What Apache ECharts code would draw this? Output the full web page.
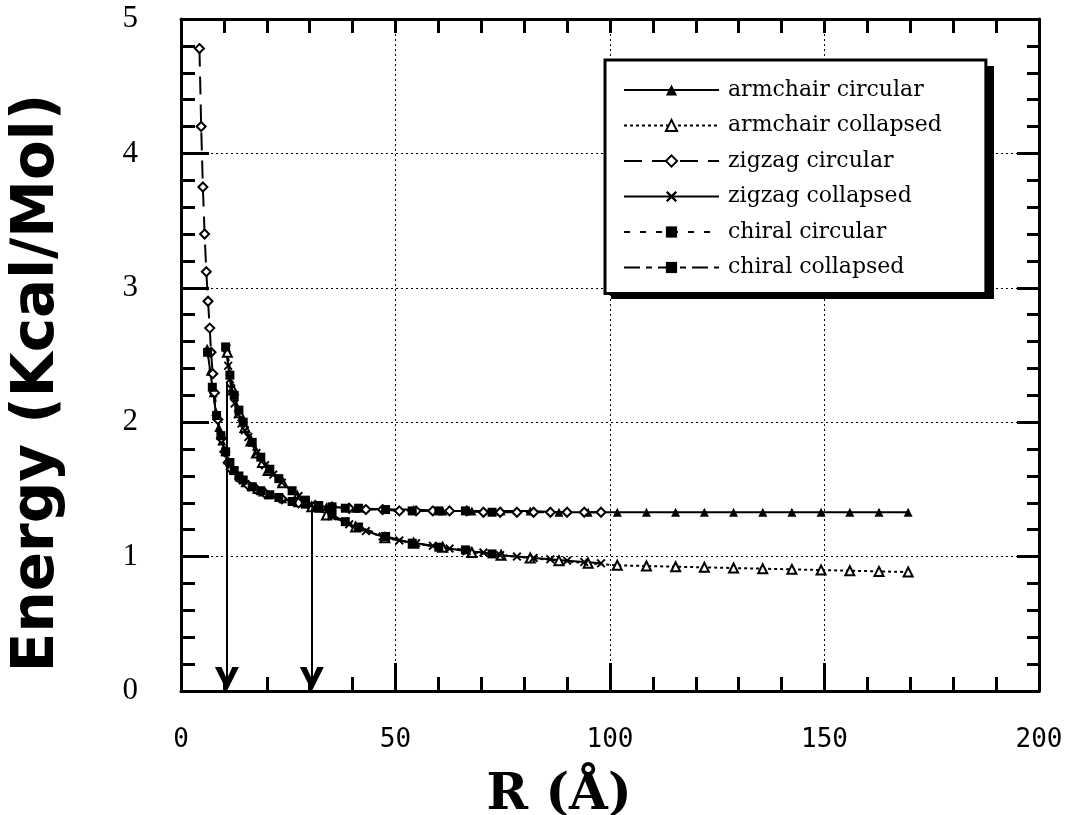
<!DOCTYPE html>
<html><head><meta charset="utf-8">
<script src="https://cdn.jsdelivr.net/npm/echarts@6/dist/echarts.min.js"></script>
<style>html,body{margin:0;padding:0;background:#fff}#c{width:1083px;height:815px}</style>
</head><body><div id="c"></div>
<script>
// ---- data ----
const seriesNames = ['armchair circular','armchair collapsed','zigzag circular','zigzag collapsed','chiral circular','chiral collapsed'];

const armchairCircR = [6.1,6.8,7.5,8.1,8.8,9.5,10.2,10.8,12.2,13.6,14.9,16.3,17.6,19.0,20.3,23.7,27.1,30.5,33.9,40.7,47.5,54.2,61.0,67.8,74.6,81.4,88.1,94.9,101.7,108.5,115.3,122.0,128.8,135.6,142.4,149.2,155.9,162.7,169.5];
const armchairCircE = [2.55,2.38,2.22,2.08,1.96,1.86,1.78,1.72,1.64,1.59,1.55,1.52,1.50,1.48,1.46,1.43,1.40,1.38,1.37,1.36,1.35,1.35,1.34,1.34,1.34,1.34,1.33,1.33,1.33,1.33,1.33,1.33,1.33,1.33,1.33,1.33,1.33,1.33,1.33];

const armchairCollR = [10.8,12.2,13.6,14.9,16.3,17.6,19.0,20.3,23.7,27.1,30.5,33.9,40.7,47.5,54.2,61.0,67.8,74.6,81.4,88.1,94.9,101.7,108.5,115.3,122.0,128.8,135.6,142.4,149.2,155.9,162.7,169.5];
const armchairCollE = [2.52,2.24,2.07,1.96,1.86,1.77,1.70,1.64,1.55,1.45,1.37,1.31,1.22,1.14,1.10,1.07,1.03,1.01,0.99,0.97,0.95,0.935,0.93,0.925,0.92,0.915,0.91,0.905,0.90,0.895,0.89,0.885];

const zigzagCircR = [4.3,4.7,5.1,5.5,5.9,6.3,6.7,7.0,7.4,7.8,8.6,9.4,10.2,11.0,11.7,13.7,15.7,17.6,19.6,23.5,27.4,31.3,35.2,39.2,43.1,47.0,50.9,54.8,58.7,62.6,66.6,70.5,74.4,78.3,82.2,86.1,90.0,94.0,97.9];
const zigzagCircE = [4.78,4.20,3.75,3.40,3.12,2.90,2.70,2.52,2.36,2.22,2.02,1.88,1.78,1.70,1.65,1.58,1.53,1.50,1.47,1.43,1.40,1.38,1.37,1.36,1.35,1.35,1.34,1.34,1.34,1.34,1.34,1.33,1.33,1.33,1.33,1.33,1.33,1.33,1.33];

const zigzagCollR = [10.6,11.0,11.4,11.7,12.5,13.3,14.1,14.9,15.7,17.6,19.6,21.5,23.5,27.4,31.3,35.2,39.2,43.1,47.0,50.9,54.8,58.7,62.6,66.6,70.5,74.4,78.3,82.2,86.1,90.0,94.0,97.9];
const zigzagCollE = [2.55,2.42,2.32,2.25,2.14,2.06,1.99,1.94,1.89,1.77,1.68,1.61,1.55,1.45,1.36,1.30,1.24,1.19,1.15,1.12,1.10,1.08,1.06,1.04,1.03,1.01,1.00,0.99,0.98,0.97,0.96,0.95];

const chiralCircR = [6.2,7.3,8.3,9.3,10.4,11.4,12.4,13.5,14.5,16.6,18.6,20.7,22.8,25.9,29.0,32.1,35.2,38.3,41.4,47.7,53.9,60.1,66.3,72.5];
const chiralCircE = [2.52,2.26,2.05,1.90,1.78,1.70,1.64,1.60,1.57,1.52,1.49,1.46,1.44,1.41,1.39,1.38,1.37,1.36,1.36,1.35,1.34,1.34,1.34,1.33];

const chiralCollR = [10.4,11.4,12.4,13.5,14.5,16.6,18.6,20.7,22.8,25.9,29.0,32.1,35.2,38.3,41.4,47.7,53.9,60.1,66.3,72.5];
const chiralCollE = [2.56,2.35,2.20,2.09,2.00,1.85,1.74,1.65,1.58,1.49,1.42,1.36,1.31,1.26,1.22,1.15,1.10,1.07,1.05,1.02];

// arrows marking the two characteristic radii: [R, E at start]
const arrowsR = [10.7, 30.5];
const arrowsStartE = [2.3, 1.36];

const xRange = {min: 0, max: 200, interval: 50};
const yRange = {min: 0, max: 5, interval: 1};

// ---- chart ----
const zip = (xs, ys) => xs.map((x, i) => [x, ys[i]]);
const xSym = 'path://M0,1.5L1.5,0L5,3.5L8.5,0L10,1.5L6.5,5L10,8.5L8.5,10L5,6.5L1.5,10L0,8.5L3.5,5Z';
const arrowSym = 'path://M10,0L20,26L14.5,26L10,13L5.5,26L0,26Z';

function mk(name, data, symbol, dash, empty) {
  return {
    name, type: 'line', data, symbol, symbolSize: 9,
    showSymbol: true, animation: false,
    lineStyle: {color: '#000', width: 2, type: dash},
    itemStyle: empty ? {color: '#000', borderColor: '#000', borderWidth: 1.5} : {color: '#000', borderColor: '#000', borderWidth: 0}
  };
}

const chart = echarts.init(document.getElementById('c'), null, {renderer: 'canvas'});
const series = [
  mk(seriesNames[0], zip(armchairCircR, armchairCircE), 'triangle', 'solid', false),
  mk(seriesNames[1], zip(armchairCollR, armchairCollE), 'emptyTriangle', [3, 3], true),
  mk(seriesNames[2], zip(zigzagCircR, zigzagCircE), 'emptyDiamond', [18, 10], true),
  mk(seriesNames[3], zip(zigzagCollR, zigzagCollE), xSym, 'solid', false),
  mk(seriesNames[4], zip(chiralCircR, chiralCircE), 'rect', [6, 10], false),
  mk(seriesNames[5], zip(chiralCollR, chiralCollE), 'rect', [16, 6, 6, 6], false),
  {
    type: 'line', data: [], silent: true, animation: false,
    markLine: {
      silent: true, animation: false,
      symbol: ['none', arrowSym], symbolSize: 24,
      label: {show: false},
      lineStyle: {color: '#000', width: 2, type: 'solid'},
      data: arrowsR.map((r, i) => [{coord: [r, arrowsStartE[i]]}, {coord: [r, 0.09]}])
    }
  }
];

const tickFontX = {fontFamily: 'DejaVu Sans Mono', fontSize: 26, color: '#000'};
chart.setOption({
  backgroundColor: '#fff',
  animation: false,
  grid: {left: 181, right: 44, top: 19, bottom: 124, containLabel: false, outerBoundsMode: 'none'},
  graphic: [
    // drop shadow of the legend box
    {type: 'rect', shape: {x: 611, y: 66, width: 383, height: 233}, style: {fill: '#000'}, z: 3, silent: true}
  ],
  legend: {
    data: seriesNames,
    orient: 'vertical', left: 605, top: 60, z: 5,
    itemWidth: 95, itemHeight: 14, itemGap: 13.5,
    padding: [19, 44, 15, 18],
    backgroundColor: '#fff', borderColor: '#000', borderWidth: 3,
    textStyle: {fontFamily: 'DejaVu Serif', fontSize: 22, color: '#000', lineHeight: 22, padding: [0, 0, 0, 4]},
    selectedMode: false
  },
  xAxis: [
    {
      type: 'value', ...xRange, position: 'bottom',
      name: 'R (Å)', nameLocation: 'middle', nameGap: 80,
      nameTextStyle: {fontFamily: 'DejaVu Serif', fontWeight: 'bold', fontSize: 50, color: '#000', padding: [0, 102, 0, 0]},
      axisLine: {onZero: false, lineStyle: {color: '#000', width: 3}},
      axisTick: {inside: true, length: 28, lineStyle: {color: '#000', width: 3}},
      minorTick: {show: true, splitNumber: 5, length: 14, lineStyle: {color: '#000', width: 3}},
      axisLabel: {...tickFontX, margin: 36},
      splitLine: {show: true, lineStyle: {color: '#000', width: 1, type: [2, 3]}},
      minorSplitLine: {show: false}
    },
    {
      type: 'value', ...xRange, position: 'top',
      axisLine: {onZero: false, lineStyle: {color: '#000', width: 3}},
      axisTick: {inside: true, length: 14, lineStyle: {color: '#000', width: 3}},
      minorTick: {show: true, splitNumber: 5, length: 14, lineStyle: {color: '#000', width: 3}},
      axisLabel: {show: false}, splitLine: {show: false}
    }
  ],
  yAxis: [
    {
      type: 'value', ...yRange, position: 'left',
      name: 'Energy (Kcal/Mol)', nameLocation: 'middle', nameGap: 114,
      nameTextStyle: {fontFamily: 'DejaVu Sans', fontWeight: 'bold', fontSize: 58, color: '#000', padding: [0, 56, 0, 0]},
      axisLine: {onZero: false, lineStyle: {color: '#000', width: 3}},
      axisTick: {inside: true, length: 28, lineStyle: {color: '#000', width: 3}},
      minorTick: {show: true, splitNumber: 5, length: 14, lineStyle: {color: '#000', width: 3}},
      axisLabel: {fontFamily: 'Liberation Serif', fontSize: 31, color: '#000', margin: 43},
      splitLine: {show: true, lineStyle: {color: '#000', width: 1, type: [2, 3]}}
    },
    {
      type: 'value', ...yRange, position: 'right',
      axisLine: {onZero: false, lineStyle: {color: '#000', width: 3}},
      axisTick: {inside: true, length: 22, lineStyle: {color: '#000', width: 3}},
      minorTick: {show: true, splitNumber: 5, length: 12, lineStyle: {color: '#000', width: 3}},
      axisLabel: {show: false}, splitLine: {show: false}
    }
  ],
  series
});
</script></body></html>
